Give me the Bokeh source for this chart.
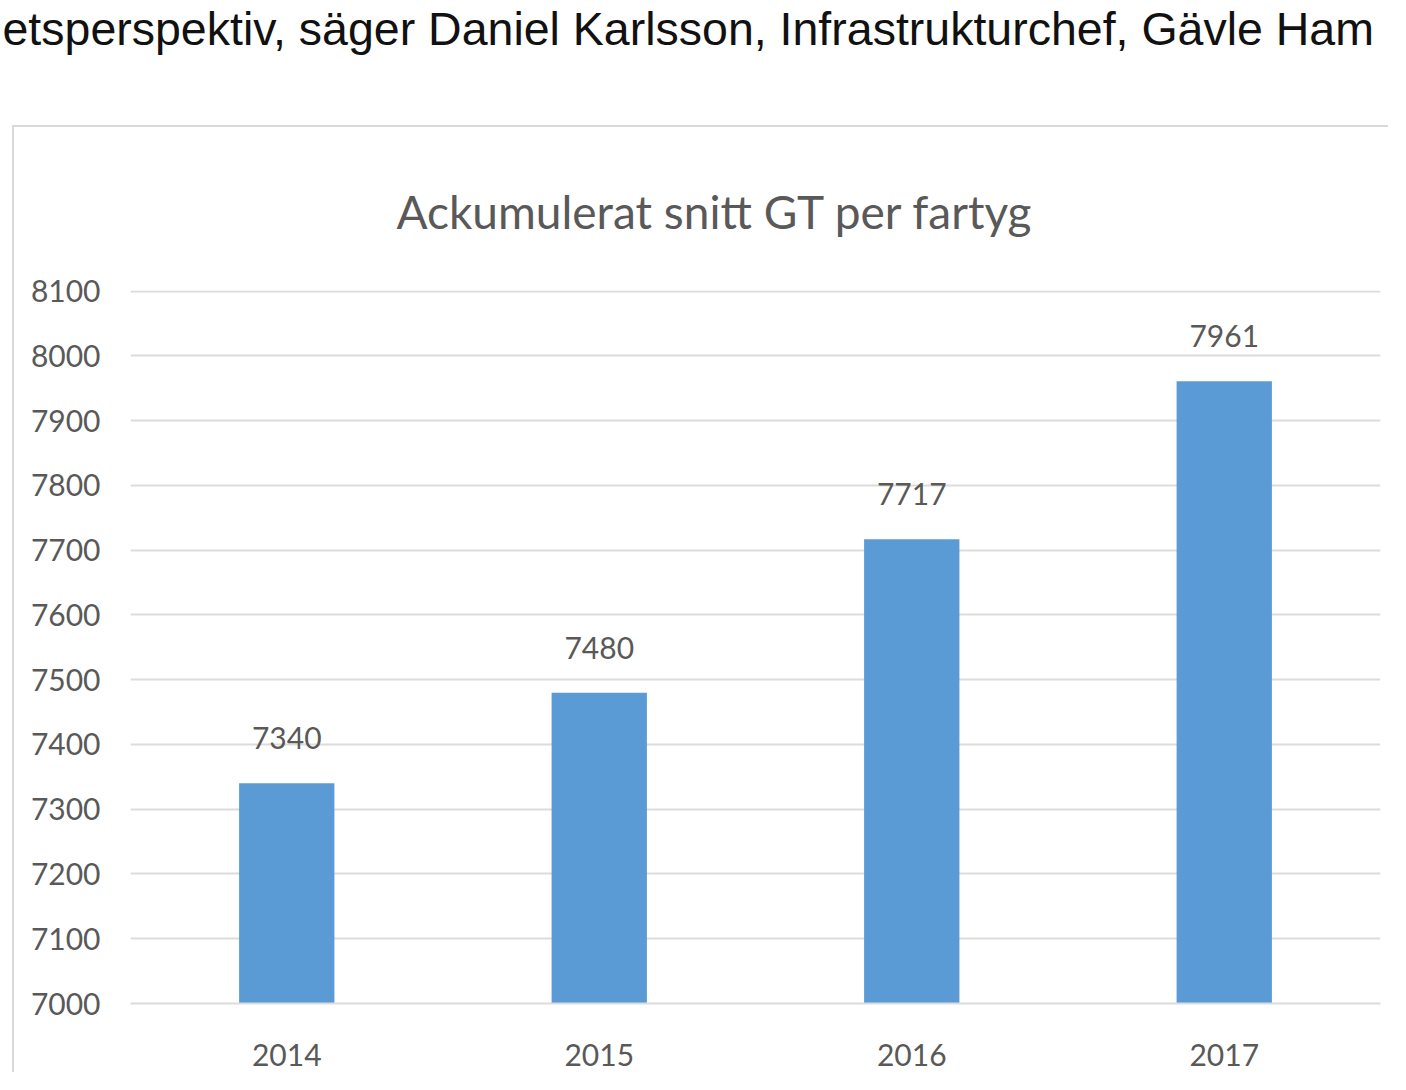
from bokeh.plotting import figure
from bokeh.models import Title, FactorRange, Range1d, FixedTicker, ColumnDataSource
from bokeh.layouts import column
from bokeh.core.properties import value
from bokeh.embed import file_html
from bokeh.resources import INLINE

years = ["2014", "2015", "2016", "2017"]
values = [7340, 7480, 7717, 7961]
y_ticks = [7000, 7100, 7200, 7300, 7400, 7500, 7600, 7700, 7800, 7900, 8000, 8100]
title_text = "Ackumulerat snitt GT per fartyg"
page_text = "etsperspektiv, säger Daniel Karlsson, Infrastrukturchef, Gävle Ham"

TXT = "#595959"
GRID = "#dcdcdc"
BAR = "#5B9BD5"
BOX = "#d9d9d9"
FONT = "Lato"

src = ColumnDataSource(dict(year=years, value=values, label=[str(v) for v in values]))

# strip of page text above the chart box
top = figure(width=1390, height=125, output_backend="svg", toolbar_location=None,
             x_axis_location=None, y_axis_location=None,
             min_border_left=0, min_border_right=0, min_border_top=0, min_border_bottom=0)
top.grid.visible = False
top.outline_line_color = None
top.border_fill_color = "white"
top.background_fill_color = "white"
top.add_layout(Title(text=page_text, align="left", offset=-114, standoff=0,
                     text_color="#111111", text_font="Liberation Sans",
                     text_font_size="46.5px", text_font_style="normal"), "above")

# chart inside its bordered box
p = figure(x_range=FactorRange(factors=years), y_range=Range1d(7000, 8101),
           width=1376, height=947, output_backend="svg", toolbar_location=None,
           min_border_left=116, min_border_right=10, min_border_top=163, min_border_bottom=71,
           margin=(0, 0, 0, 12),
           styles={"border-left": f"2px solid {BOX}", "border-top": f"2px solid {BOX}"})
p.outline_line_color = None
p.background_fill_color = "white"
p.border_fill_color = "white"

p.xgrid.grid_line_color = None
p.ygrid.ticker = FixedTicker(ticks=y_ticks)
p.ygrid.grid_line_color = GRID
p.ygrid.grid_line_width = 2

p.yaxis.ticker = FixedTicker(ticks=y_ticks)
p.yaxis.axis_line_color = None
p.yaxis.major_tick_line_color = None
p.yaxis.minor_tick_line_color = None
p.yaxis.major_label_standoff = 24
p.yaxis.major_label_text_font = FONT
p.yaxis.major_label_text_font_size = "30px"
p.yaxis.major_label_text_color = TXT

p.xaxis.axis_line_color = GRID
p.xaxis.axis_line_width = 2
p.xaxis.major_tick_line_color = None
p.xaxis.minor_tick_line_color = None
p.xaxis.major_label_standoff = 34
p.xaxis.major_label_text_font = FONT
p.xaxis.major_label_text_font_size = "30px"
p.xaxis.major_label_text_color = TXT

p.vbar(x="year", top="value", bottom=7000, width=0.305, source=src,
       fill_color=BAR, line_color=None)
p.text(x="year", y="value", text="label", source=src, y_offset=-45,
       text_align="center", text_baseline="middle", text_color=TXT,
       text_font=value(FONT), text_font_size="30px")

p.add_layout(Title(text=title_text, align="left", offset=266, standoff=104,
                   text_color=TXT, text_font=FONT, text_font_size="46px",
                   text_font_style="normal"), "above")

layout = column(top, p, spacing=0)
open("out.html", "w").write(file_html(layout, INLINE))
